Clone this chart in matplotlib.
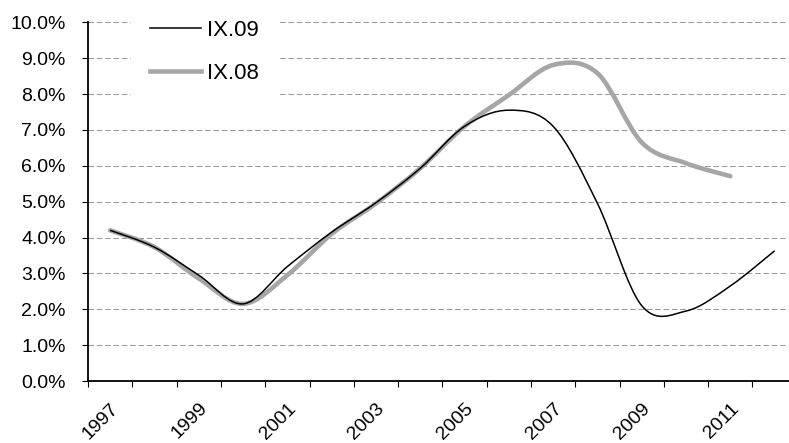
import numpy as np
import matplotlib
matplotlib.use("Agg")
import matplotlib.pyplot as plt
from matplotlib.path import Path
from matplotlib.patches import PathPatch
from matplotlib.lines import Line2D

# yearly values (percent)
years = list(range(1997, 2013))
ix09 = [4.20, 3.73, 2.95, 2.15, 3.19, 4.15, 4.97, 5.93, 7.10, 7.55, 7.10, 4.95, 2.10, 1.95, 2.65, 3.63]
ix08 = [4.20, 3.73, 2.86, 2.15, 2.95, 4.10, 4.95, 5.93, 7.10, 7.97, 8.81, 8.58, 6.65, 6.07, 5.71]
year_labels = ["1997", "1999", "2001", "2003", "2005", "2007", "2009", "2011"]

plt.rcParams["font.family"] = ["Liberation Sans", "DejaVu Sans"]


def smooth_path(x, y):
    # Excel style smoothed line: cubic bezier through every point
    pts = np.column_stack([x, y]).astype(float)
    n = len(pts)
    verts = [pts[0]]
    codes = [Path.MOVETO]
    for i in range(n - 1):
        p0 = pts[max(i - 1, 0)]
        p1 = pts[i]
        p2 = pts[i + 1]
        p3 = pts[min(i + 2, n - 1)]
        verts += [p1 + (p2 - p0) / 6, p2 - (p3 - p1) / 6, p2]
        codes += [Path.CURVE4] * 3
    return Path(verts, codes)


W, H = 789, 443
fig = plt.figure(figsize=(W / 100, H / 100), dpi=100)
ax = fig.add_axes([88 / W, (H - 381) / H, 708.8 / W, (381 - 22.3) / H])

gray = "#a6a6a6"
x09 = np.arange(len(ix09))
x08 = np.arange(len(ix08))
ax.add_patch(PathPatch(smooth_path(x08, ix08), fill=False, edgecolor=gray,
                       lw=3.3, capstyle="round", joinstyle="round", zorder=3))
ax.add_patch(PathPatch(smooth_path(x09, ix09), fill=False, edgecolor="black",
                       lw=1.1, capstyle="butt", zorder=4))

ax.set_xlim(-0.5, len(years) - 0.5)
ax.set_ylim(0, 10)

# y axis
ax.set_yticks(np.arange(0, 11, 1))
ax.set_yticklabels(["%.1f%%" % v for v in np.arange(0, 11, 1)])
ax.yaxis.grid(True, color="#9a9a9a", lw=0.75, linestyle=(0, (5.3, 2.7)))
ax.tick_params(axis="y", direction="out", length=4, width=0.8, pad=12, labelsize=14)

# x axis: tick marks between years, labels every second year
ax.set_xticks(np.arange(-0.5, len(years), 1))
ax.set_xticklabels([])
ax.set_xticks(np.arange(0, 15, 2), minor=True)
ax.set_xticklabels(year_labels, minor=True)
ax.tick_params(axis="x", which="major", direction="out", length=4.5, width=0.8)
ax.tick_params(axis="x", which="minor", length=0, pad=13.5, labelsize=14)
for lab in ax.get_xticklabels(minor=True):
    lab.set_rotation(45)
    lab.set_ha("right")
    lab.set_va("top")
    lab.set_rotation_mode("anchor")

for s in ["top", "right"]:
    ax.spines[s].set_visible(False)
for s in ["left", "bottom"]:
    ax.spines[s].set_linewidth(1.3)
    ax.spines[s].set_zorder(5)
ax.set_axisbelow(True)

handles = [Line2D([], [], color="black", lw=1.1),
           Line2D([], [], color=gray, lw=3.3)]
leg = ax.legend(handles, ["IX.09", "IX.08"], loc="upper left",
                bbox_to_anchor=(131.3 / W, 1 - 1 / H), bbox_transform=fig.transFigure,
                borderaxespad=0, fontsize=16, frameon=True, fancybox=False,
                handlelength=2.3, handletextpad=0.25, labelspacing=1.0,
                borderpad=0.85)
leg.get_frame().set_edgecolor("white")
leg.get_frame().set_facecolor("white")
leg.get_frame().set_alpha(1)

fig.savefig("out.png", dpi=100)
